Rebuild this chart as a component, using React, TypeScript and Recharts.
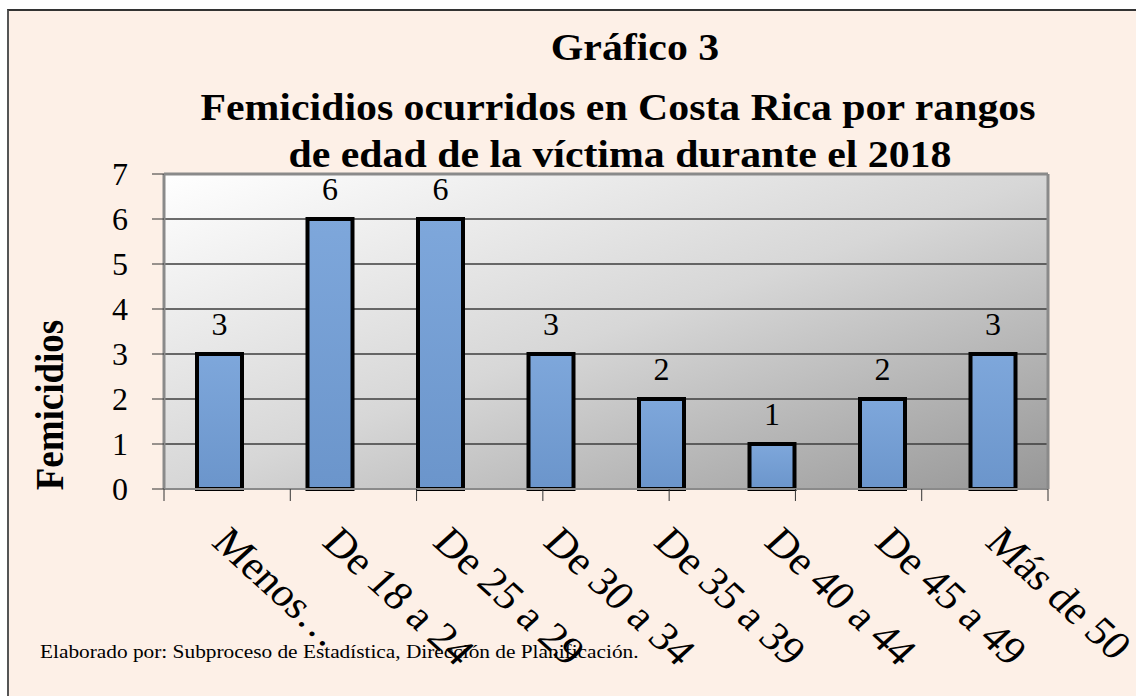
import React from 'react';
import {
  BarChart,
  Bar,
  XAxis,
  YAxis,
  CartesianGrid,
  LabelList,
  ReferenceLine
} from 'recharts';

const categories = ['Menos…', 'De 18 a 24', 'De 25 a 29', 'De 30 a 34', 'De 35 a 39', 'De 40 a 44', 'De 45 a 49', 'Más de 50'];
const femicidios = [3, 6, 6, 3, 2, 1, 2, 3];
const yTicks = [0, 1, 2, 3, 4, 5, 6, 7];
const titleLines = ['Gráfico 3', 'Femicidios ocurridos en Costa Rica por rangos', 'de edad de la víctima durante el 2018'];
const yLabel = 'Femicidios';
const footer = 'Elaborado por: Subproceso de Estadística, Dirección de Planificación.';

const SERIF = '"Liberation Serif", "Times New Roman", serif';
const W = 1136;
const H = 696;
// the source picture is a bit stretched sideways, text included
const SX = 1.1;

const data = categories.map((rango, i) => ({ rango, femicidios: femicidios[i] }));
// band edges 0..n, so the bottom ticks sit between the bars like Excel does
const edges = categories.map((_, i) => i).concat(categories.length);

const RotatedTick = ({ x, y, payload }: any) => (
  <text
    transform={`translate(${x - 9},${y + 54}) scale(${SX},1) rotate(45)`}
    textAnchor="start"
    fontFamily={SERIF}
    fontSize={40}
    fill="#000"
  >
    {payload.value}
  </text>
);

const App: React.FC = () => {
  return (
    <div style={{ position: 'absolute', left: 0, top: 0, width: W, height: H, background: '#fff', overflow: 'hidden' }}>
      <div
        style={{
          position: 'absolute',
          left: 7,
          top: 9,
          width: W,
          height: H,
          background: '#FDF0E7',
          borderLeft: '2px solid #555',
          borderTop: '2px solid #333'
        }}
      />
      <div style={{ position: 'absolute', left: 0, top: 0 }}>
        <BarChart width={W} height={H} data={data} margin={{ top: 174, right: 0, bottom: 0, left: 0 }}>
          <defs>
            <linearGradient id="plotBg" x1="0" y1="0" x2="1" y2="1">
              <stop offset="0" stopColor="#ffffff" />
              <stop offset="0.5" stopColor="#d7d7d7" />
              <stop offset="1" stopColor="#979797" />
            </linearGradient>
            <linearGradient id="barFill" x1="0" y1="0" x2="0" y2="1">
              <stop offset="0" stopColor="#7EA7DB" />
              <stop offset="1" stopColor="#6B95CB" />
            </linearGradient>
          </defs>
          <CartesianGrid
            xAxisId="cat"
            yAxisId="l"
            vertical={false}
            fill="url(#plotBg)"
            fillOpacity={1}
            stroke="#3c3c3c"
            strokeWidth={1.5}
          />
          <XAxis
            xAxisId="aEdge"
            type="number"
            domain={[0, categories.length]}
            ticks={edges}
            interval={0}
            allowDataOverflow
            height={1}
            tickSize={12}
            tick={() => <g />}
            tickLine={{ stroke: '#333' }}
            axisLine={{ stroke: '#8a8a8a', strokeWidth: 2 }}
          />
          <XAxis
            xAxisId="cat"
            dataKey="rango"
            height={206}
            interval={0}
            tickSize={0}
            tickMargin={0}
            axisLine={false}
            tickLine={false}
            tick={<RotatedTick />}
          />
          <YAxis
            yAxisId="l"
            width={164}
            domain={[0, 7]}
            ticks={yTicks}
            interval={0}
            tickSize={12}
            tickMargin={24}
            tick={{ fontSize: 32, fill: '#000', fontFamily: SERIF }}
            tickLine={{ stroke: '#333' }}
            axisLine={{ stroke: '#8a8a8a', strokeWidth: 3 }}
          />
          <YAxis
            yAxisId="r"
            orientation="right"
            width={88}
            domain={[0, 7]}
            tick={false}
            tickLine={false}
            axisLine={{ stroke: '#8a8a8a', strokeWidth: 3 }}
          />
          <ReferenceLine xAxisId="cat" yAxisId="l" y={7} stroke="#8a8a8a" strokeWidth={3} />
          <Bar
            xAxisId="cat"
            yAxisId="l"
            dataKey="femicidios"
            barSize={45}
            fill="url(#barFill)"
            stroke="#000"
            strokeWidth={4}
            isAnimationActive={false}
          >
            <LabelList dataKey="femicidios" position="top" offset={19} fill="#000" fontSize={32} fontFamily={SERIF} />
          </Bar>
        </BarChart>
      </div>
      <svg width={W} height={H} style={{ position: 'absolute', left: 0, top: 0, pointerEvents: 'none' }}>
        <g transform={`scale(${SX},1)`} fontFamily={SERIF} fontWeight="bold" fontSize={38} fill="#000" textAnchor="middle">
          <text x={635 / SX} y={60}>{titleLines[0]}</text>
          <text x={618 / SX} y={120}>{titleLines[1]}</text>
          <text x={620 / SX} y={167}>{titleLines[2]}</text>
        </g>
        <text
          transform={`translate(63,405) scale(${SX},1) rotate(-90)`}
          textAnchor="middle"
          fontFamily={SERIF}
          fontWeight="bold"
          fontSize={37}
          fill="#000"
        >
          {yLabel}
        </text>
        <text transform={`scale(${SX},1)`} x={40 / SX} y={658} fontFamily={SERIF} fontSize={19.4} fill="#000">
          {footer}
        </text>
      </svg>
    </div>
  );
};

export default App;
